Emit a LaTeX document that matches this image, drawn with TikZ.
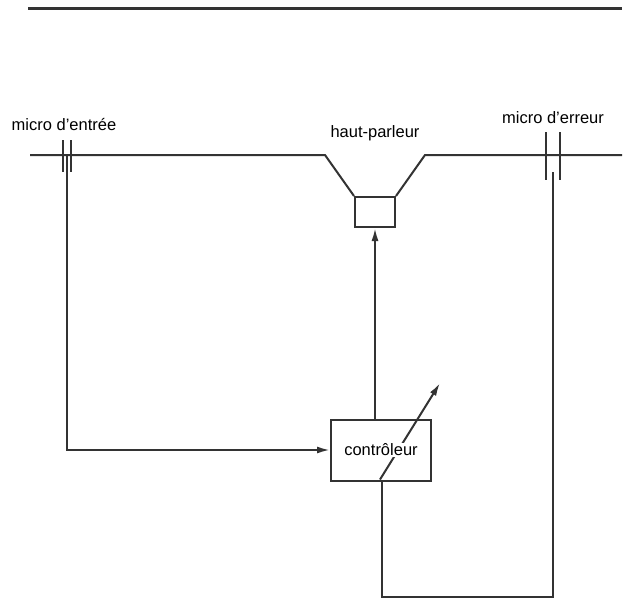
\documentclass[tikz,border=0pt]{standalone}
\usepackage{fontspec}
\setmainfont{Liberation Sans}
\usetikzlibrary{arrows.meta}

\tikzset{
  lbl/.style={font=\fontsize{16.5}{18}\selectfont, inner sep=0pt},
  pipe/.style={line width=2pt, draw=black!80},
  sig/.style={pipe, -{Latex[length=13pt,width=7pt]}},
}

\begin{document}
\begin{tikzpicture}[x=1pt,y=-1pt]
\useasboundingbox (0,0) rectangle (624,600);
% Nodes
\coordinate (mi) at (67,156);
\coordinate (me) at (553,156);
\node[draw=black!80, line width=2pt, minimum width=40, minimum height=30, inner sep=0pt] (hp) at (375,212) {};
\node[draw=black!80, line width=2pt, minimum width=100, minimum height=61, inner sep=0pt] (ctrl) at (381,450) {};

% labels
\node[lbl] (lmi) at (64,125) {micro d'entrée};
\node[lbl] (lhp) at (375,133) {haut-parleur};
\node[lbl] (lme) at (553,118) {micro d'erreur};

% duct walls
\draw[line width=3pt, black!80] (28,8) -- (622,8);
\draw[pipe] (30,155) -- (325,155) -- (hp.north west);
\draw[pipe] (hp.north east) -- (425,155) -- (622,155);

% micros
\draw[pipe] ([xshift=-4pt,yshift=16pt]mi) -- ++(0,32);
\draw[pipe] ([xshift=4pt,yshift=16pt]mi) -- ++(0,32);
\draw[pipe] ([xshift=-7pt,yshift=24pt]me) -- ++(0,48);
\draw[pipe] ([xshift=7pt,yshift=24pt]me) -- ++(0,48);

% signals
\draw[sig] (mi) -- (mi |- ctrl.west) -- (ctrl.west);
\draw[sig] (ctrl.north -| hp.south) -- (hp.south);
\draw[pipe] ([yshift=-16pt]me) -- ++(0,441-16) -| ([xshift=1pt]ctrl.south);
\draw[sig] ([xshift=-1pt,yshift=2pt]ctrl.south) -- (440,383);
\node[lbl, fill=white, inner sep=1pt] (tctrl) at (ctrl.center) {contrôleur};
\end{tikzpicture}
\end{document}
